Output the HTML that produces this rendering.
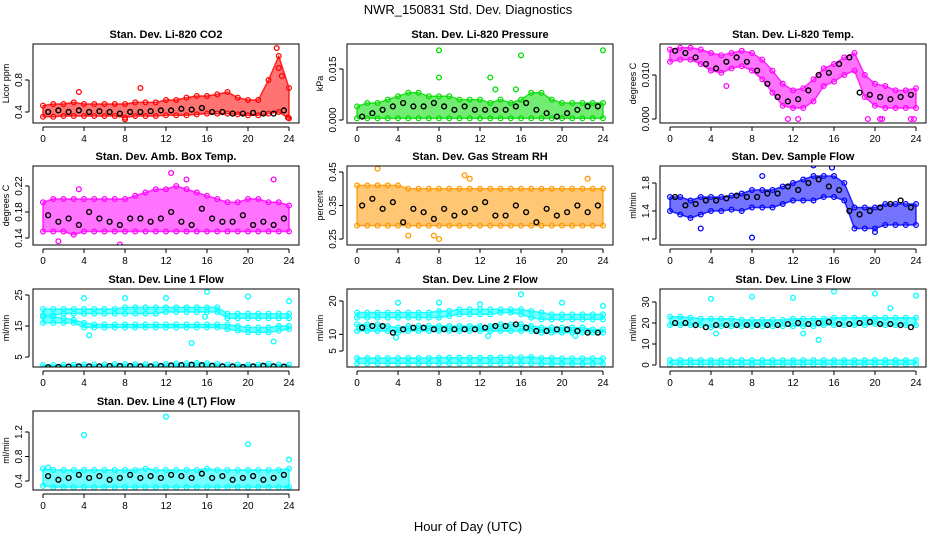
<!DOCTYPE html>
<html><head><meta charset="utf-8">
<style>
html,body{margin:0;padding:0;background:#fff;}
svg{display:block;font-family:"Liberation Sans",Arial,sans-serif;}
</style></head>
<body>
<svg id="chart" width="936" height="540" viewBox="0 0 936 540">
<text x="468" y="14" text-anchor="middle" font-size="13">NWR_150831  Std. Dev. Diagnostics</text>
<text x="468" y="531" text-anchor="middle" font-size="13">Hour of Day (UTC)</text>
</svg>
<script>
const hours=[0,1,2,3,4,5,6,7,8,9,10,11,12,13,14,15,16,17,18,19,20,21,22,23,24];
const xTicks=[0,4,8,12,16,20,24];
// CO2
const co2Lo=[0.34,0.34,0.35,0.35,0.35,0.35,0.35,0.35,0.33,0.35,0.35,0.35,0.36,0.36,0.36,0.37,0.38,0.38,0.38,0.37,0.36,0.36,0.38,0.40,0.32];
const co2Hi=[0.48,0.50,0.50,0.52,0.50,0.50,0.50,0.50,0.50,0.52,0.52,0.52,0.55,0.55,0.58,0.60,0.60,0.62,0.65,0.58,0.55,0.55,0.80,1.10,0.70];
const co2Blk=[0.40,0.40,0.42,0.40,0.42,0.40,0.41,0.40,0.38,0.40,0.40,0.41,0.42,0.42,0.44,0.43,0.45,0.40,0.40,0.38,0.38,0.39,0.38,0.38,0.42];
const co2OutX=[3.5,9.5,23,22.8,23.3,8,23.9];
const co2OutY=[0.65,0.70,0.95,1.20,0.85,0.31,0.33];
const co2Ticks=[0.4,0.8];
// Pressure
const prLo=[0.0005,0.0005,0.0005,0.0005,0.0005,0.0005,0.0005,0.0005,0.0005,0.0005,0.0005,0.0005,0.0005,0.0005,0.0005,0.0005,0.0005,0.0005,0.0005,0.0005,0.0005,0.0005,0.0005,0.0005,0.0005];
const prHi=[0.004,0.005,0.005,0.006,0.007,0.008,0.008,0.007,0.007,0.007,0.006,0.006,0.006,0.005,0.006,0.005,0.006,0.008,0.008,0.006,0.005,0.005,0.005,0.005,0.005];
const prBlk=[0.002,0.001,0.002,0.003,0.004,0.005,0.004,0.004,0.005,0.004,0.003,0.004,0.003,0.003,0.003,0.003,0.004,0.005,0.003,0.002,0.001,0.002,0.003,0.004,0.004];
const prOutX=[8,16,24,13,13.5,15.5,8];
const prOutY=[0.0205,0.019,0.0205,0.0125,0.009,0.009,0.0125];
const prTicks=[0.000,0.015];
const prTickLabels=["0.000","0.015"];
// Li-820 Temp
const tLo=[0.0130,0.0135,0.0135,0.0125,0.0110,0.0105,0.0115,0.0120,0.0110,0.0090,0.0060,0.0030,0.0025,0.0025,0.0040,0.0075,0.0085,0.0100,0.0110,0.0050,0.0030,0.0025,0.0025,0.0025,0.0025];
const tHi=[0.0158,0.0162,0.0162,0.0158,0.0150,0.0145,0.0150,0.0155,0.0150,0.0135,0.0110,0.0080,0.0065,0.0070,0.0090,0.0115,0.0125,0.0140,0.0150,0.0100,0.0080,0.0075,0.0065,0.0065,0.0070];
const tBlk=[0.0150,0.0155,0.0150,0.0140,0.0125,0.0115,0.0130,0.0140,0.0130,0.0110,0.0080,0.0050,0.0040,0.0045,0.0065,0.0100,0.0105,0.0125,0.0140,0.0060,0.0055,0.0050,0.0045,0.0050,0.0055];
const tOutX=[11.5,12.5,19.3,20.5,20.7,23.5,23.8,5.5];
const tOutY=[0,0,0,0,0,0,0,0.0075];
const tTicks=[0.000,0.010];
const tTickLabels=["0.000","0.010"];
// Amb box temp
const bLo=[0.15,0.15,0.15,0.145,0.15,0.15,0.15,0.15,0.15,0.15,0.15,0.15,0.15,0.15,0.15,0.15,0.15,0.15,0.15,0.15,0.15,0.15,0.15,0.15,0.15];
const bHi=[0.195,0.20,0.20,0.20,0.20,0.20,0.20,0.20,0.20,0.205,0.21,0.215,0.215,0.22,0.215,0.21,0.205,0.20,0.195,0.195,0.20,0.20,0.195,0.195,0.19];
const bBlk=[0.17,0.175,0.165,0.17,0.16,0.18,0.17,0.165,0.16,0.17,0.17,0.165,0.17,0.18,0.165,0.16,0.185,0.17,0.165,0.165,0.175,0.16,0.165,0.16,0.17];
const bOutX=[12.5,7.5,1.5,14,3.5,22.5];
const bOutY=[0.24,0.13,0.135,0.23,0.215,0.23];
const bTicks=[0.14,0.18,0.22];
// RH
const rLo=[0.29,0.29,0.29,0.29,0.29,0.29,0.29,0.29,0.29,0.29,0.29,0.29,0.29,0.29,0.29,0.29,0.29,0.29,0.29,0.29,0.29,0.29,0.29,0.29,0.29];
const rHi=[0.41,0.41,0.41,0.41,0.41,0.40,0.40,0.40,0.40,0.40,0.40,0.40,0.40,0.40,0.40,0.40,0.40,0.40,0.40,0.40,0.40,0.40,0.40,0.40,0.40];
const rBlk=[0.36,0.35,0.37,0.34,0.36,0.30,0.34,0.33,0.31,0.34,0.32,0.33,0.34,0.36,0.32,0.32,0.35,0.33,0.30,0.34,0.32,0.33,0.35,0.33,0.35];
const rOutX=[2,5,8,10.5,11,22.5,7.5];
const rOutY=[0.46,0.26,0.25,0.44,0.43,0.43,0.26];
const rTicks=[0.25,0.35,0.45];
// Sample flow
const sLo=[1.40,1.35,1.30,1.35,1.40,1.40,1.42,1.40,1.45,1.45,1.45,1.50,1.55,1.55,1.55,1.60,1.60,1.55,1.15,1.15,1.15,1.20,1.20,1.20,1.20];
const sHi=[1.60,1.60,1.55,1.60,1.60,1.60,1.62,1.65,1.70,1.70,1.70,1.75,1.80,1.85,1.90,1.90,1.90,1.80,1.45,1.45,1.45,1.50,1.50,1.50,1.50];
const sBlk=[1.55,1.60,1.48,1.50,1.55,1.55,1.58,1.62,1.60,1.60,1.65,1.65,1.75,1.70,1.80,1.85,1.75,1.70,1.40,1.35,1.40,1.45,1.50,1.55,1.45];
const sOutX=[8,14,20,15.8,3,9];
const sOutY=[1.02,2.05,1.10,2.02,1.15,1.90];
const sTicks=[1.0,1.4,1.8];
// Line 1
const l1ULo=[18.5,18.5,19,19,19,19,19,19,19,19,19,19,19.5,19.5,19.5,19.5,19.5,19.5,17.5,17.5,17.5,17.5,17.5,17.5,17.5];
const l1UHi=[20.5,20.5,20.5,20.5,20.5,20.5,20.5,20.5,21,21,21,21,21,21,21,21,21,21,19,19,19,19,19,19,19];
const l1LLo=[16,16,16,16,14.5,14.5,14.5,14.5,14.5,14.5,14.5,14.5,14.5,14.5,14.5,14.5,14.5,14.5,14,13.5,13,13,13,13.5,14];
const l1LHi=[18,18,17.5,17,16,15.5,15.5,15.5,15.5,15.5,15.5,15.5,15.5,15.5,15.5,15.5,15.5,15.5,15.5,15,14.5,14.5,14.5,15,15];
const l1BLo=[1.4,1.4,1.4,1.5,1.5,1.5,1.5,1.5,1.5,1.5,1.5,1.5,1.6,1.6,1.7,1.7,1.7,1.6,1.5,1.5,1.4,1.4,1.5,1.5,1.4];
const l1BHi=[2.4,2.4,2.5,2.5,2.6,2.6,2.6,2.7,2.7,2.7,2.7,2.7,2.8,2.9,3.0,3.1,3.0,2.8,2.6,2.6,2.5,2.6,2.8,2.6,2.5];
const l1Blk=[1.8,1.7,1.8,1.9,2,2,2,2.1,2.1,2.1,2,2,2.1,2.3,2.4,2.5,2.4,2.2,2,2,1.8,2,2.2,2,1.9];
const l1OutX=[4,8,12,16,20,24,14.5,22.5,4.5,15.8];
const l1OutY=[24,24,24,26,24.5,23,9.5,10,12,18];
const l1Ticks=[5,15,25];
// Line 2
const l2TLo=[15,15,15,15,15,15,15,15,15,15.5,16,16,16,16,16.5,16.5,16,15,14.5,14.5,14.5,14.5,14.5,14.5,14.5];
const l2THi=[16.5,16.5,16.5,16.5,16.5,16.5,16.5,16.5,17,17,17.5,17.5,17.5,17.5,17.5,17.5,17.5,17,16.5,16,16,16,16,16,16];
const l2MLo=[11,11,11,11,10.5,11,11,11,11,11,11,11,11,11,11,11,11,11,10.5,10.5,10.5,10.5,10.5,10.5,10.5];
const l2MHi=[13,13,13,12.5,12,12.5,12.5,12.5,12.5,12.5,12.5,12.5,12.5,12.5,13,13,13,12.5,12,12,12,12,12,11.5,11.5];
const l2BLo=[1.3,1.3,1.3,1.3,1.3,1.3,1.3,1.3,1.3,1.3,1.3,1.3,1.3,1.3,1.3,1.3,1.3,1.3,1.1,1.1,1.1,1.1,1.1,1.1,1.1];
const l2BHi=[2.9,2.9,2.9,2.9,2.9,2.9,2.9,2.9,3.0,3.0,3.0,3.0,3.0,3.0,3.1,3.1,3.1,3.2,2.9,2.9,2.8,2.8,2.8,2.8,2.8];
const l2Blk=[12,12,12.5,12.5,10.5,11.5,12,12,11.5,11.5,11.5,11.5,11.5,12,12.5,12.5,13,12,11,11,11.5,11.5,11,10.5,10.5];
const l2OutX=[4,8,12,16,20,24,3.8,12.8,21.3];
const l2OutY=[19.5,19.5,19,22,19.5,18.5,9,9.5,9.5];
const l2Ticks=[5,10,20];
// Line 3
const l3Lo=[19,19,19,19,18,18.5,18.5,18.5,18.5,18.5,18.5,18.5,18.5,18.5,18.5,19,19,19,19,19,19.5,19,19,19,19];
const l3Hi=[23,23,22.5,22,22,22,22,21.5,21.5,21.5,21.5,21.5,22,22,22,22,22.5,22.5,22.5,22.5,22.5,22.5,22.5,22.5,22.5];
const l3BLo=[0.3,0.3,0.3,0.3,0.3,0.3,0.3,0.3,0.3,0.3,0.3,0.3,0.3,0.3,0.3,0.3,0.3,0.3,0.3,0.3,0.3,0.3,0.3,0.3,0.3];
const l3BHi=[2.3,2.3,2.3,2.3,2.3,2.3,2.3,2.3,2.3,2.3,2.3,2.3,2.3,2.3,2.3,2.3,2.3,2.3,2.3,2.3,2.3,2.3,2.3,2.3,2.3];
const l3Blk=[20,20,20,19,18,19,19,19,19,19,19,19,19.5,20,19.5,20,20.5,19.5,19.5,20,20.5,19.5,19.5,19,18];
const l3OutX=[4,8,12,16,20,24,14.5,13,4.5,21.5];
const l3OutY=[31.5,32.5,32,35,34,33,12,15,15,27];
const l3Ticks=[0,10,20,30];
// Line 4
const l4Lo=[0.32,0.30,0.30,0.30,0.30,0.30,0.30,0.30,0.30,0.30,0.30,0.30,0.30,0.30,0.30,0.30,0.30,0.30,0.30,0.30,0.30,0.30,0.30,0.30,0.30];
const l4Hi=[0.60,0.58,0.58,0.58,0.58,0.58,0.58,0.58,0.58,0.58,0.60,0.58,0.58,0.58,0.58,0.58,0.60,0.58,0.58,0.58,0.58,0.58,0.58,0.58,0.60];
const l4Blk=[0.45,0.48,0.42,0.45,0.50,0.45,0.48,0.42,0.45,0.5,0.45,0.48,0.45,0.5,0.48,0.45,0.52,0.45,0.48,0.42,0.45,0.48,0.42,0.45,0.5];
const l4OutX=[4,12,20,24,0.5,23.8];
const l4OutY=[1.15,1.45,1.0,0.75,0.62,0.28];
const l4Ticks=[0.4,0.8,1.2];

const NS="http://www.w3.org/2000/svg";
const svg=document.getElementById('chart');
function mk(tag,attrs,parent){const e=document.createElementNS(NS,tag);for(const k in attrs)e.setAttribute(k,attrs[k]);(parent||svg).appendChild(e);return e;}

const colX=[{l:33,r:299},{l:347,r:613},{l:660,r:926}];
const rowY=[{t:44,b:123},{t:166,b:245},{t:289,b:367},{t:411,b:490}];

function panel(name,title,ylab,col,row,ref,ticks,tickLabels,color,bands,blk,outX,outY){
  const g=mk('g',{});
  
  
  const L=colX[col].l,R=colX[col].r,T=rowY[row].t,B=rowY[row].b;
  const xs=h=>L+10+h*(R-L-20)/24;
  const ys=v=>ref[1]+(v-ref[0])*(ref[3]-ref[1])/(ref[2]-ref[0]);
  const cid='clip-'+name;
  const cp=mk('clipPath',{id:cid},g);mk('rect',{x:L,y:T,width:R-L,height:B-T},cp);
  const data=mk('g',{'clip-path':'url(#'+cid+')'},g);
  
  
  bands.forEach(([lo,hi])=>{
    let pts=hours.map((h,i)=>xs(h)+','+ys(hi[i]));
    pts=pts.concat(hours.slice().reverse().map((h,j)=>{const i=hours.length-1-j;return xs(h)+','+ys(lo[i]);}));
    const band=mk('polygon',{points:pts.join(' '),fill:color,'fill-opacity':0.55,stroke:color,'stroke-width':1.5,'stroke-opacity':0.8,'stroke-linejoin':'round'},data);
    
    
    hours.forEach((h,i)=>{
      [lo[i],hi[i]].forEach(v=>{
        const c=mk('circle',{cx:xs(h),cy:ys(v),r:2.4,fill:'none',stroke:color,'stroke-width':1.2},data);
        
        
      });
    });
  });
  outX.forEach((x,i)=>{
    const c=mk('circle',{cx:xs(x),cy:ys(outY[i]),r:2.4,fill:'none',stroke:color,'stroke-width':1.3},data);
    
    
  });
  hours.forEach((h,i)=>{
    if(h===0)return;
    const c=mk('circle',{cx:xs(h-0.5),cy:ys(blk[i]),r:2.4,fill:'none',stroke:'#000','stroke-width':1.4},data);
    
    
  });
  const box=mk('rect',{x:L,y:T,width:R-L,height:B-T,fill:'none',stroke:'#000','stroke-width':1},g);
  
  
  const t=mk('text',{x:(L+R)/2,y:T-6,'text-anchor':'middle','font-size':11,'font-weight':'bold'},g);
  t.textContent=title;
  
  
  const xa=mk('g',{},g);
  
  
  mk('line',{x1:xs(0),x2:xs(24),y1:B+4,y2:B+4,stroke:'#000'},xa);
  xTicks.forEach(v=>{
    mk('line',{x1:xs(v),x2:xs(v),y1:B+4,y2:B+8,stroke:'#000'},xa);
    const tx=mk('text',{x:xs(v),y:B+19,'text-anchor':'middle','font-size':10},xa);
    tx.textContent=v;
  });
  const ya=mk('g',{},g);
  
  
  mk('line',{x1:L-4,x2:L-4,y1:ys(ticks[0]),y2:ys(ticks[ticks.length-1]),stroke:'#000'},ya);
  ticks.forEach((v,i)=>{
    mk('line',{x1:L-8,x2:L-4,y1:ys(v),y2:ys(v),stroke:'#000'},ya);
    const yy=ys(v);
    const tx=mk('text',{x:L-11,y:yy,'text-anchor':'middle','font-size':10,transform:'rotate(-90 '+(L-11)+' '+yy+')'},ya);
    tx.textContent=tickLabels?tickLabels[i]:v;
  });
  const cy=(T+B)/2;
  const yl=mk('text',{x:L-24,y:cy,'text-anchor':'middle','font-size':9,transform:'rotate(-90 '+(L-24)+' '+cy+')'},g);
  yl.textContent=ylab;
  
  
}
panel('co2','Stan. Dev. Li-820 CO2','Licor ppm',0,0,[0.4,112,0.8,80],co2Ticks,null,'#f00',[[co2Lo,co2Hi]],co2Blk,co2OutX,co2OutY);
panel('pressure','Stan. Dev. Li-820 Pressure','kPa',1,0,[0,120,0.015,69],prTicks,prTickLabels,'#0d0',[[prLo,prHi]],prBlk,prOutX,prOutY);
panel('li820-temp','Stan. Dev. Li-820 Temp.','degrees C',2,0,[0,119,0.010,75],tTicks,tTickLabels,'#f0f',[[tLo,tHi]],tBlk,tOutX,tOutY);
panel('box-temp','Stan. Dev. Amb. Box Temp.','degrees C',0,1,[0.14,238,0.22,186],bTicks,null,'#f0f',[[bLo,bHi]],bBlk,bOutX,bOutY);
panel('gas-rh','Stan. Dev. Gas Stream RH','percent',1,1,[0.25,239,0.45,172],rTicks,null,'#f90',[[rLo,rHi]],rBlk,rOutX,rOutY);
panel('sample-flow','Stan. Dev. Sample Flow','ml/min',2,1,[1.0,239,1.8,183],sTicks,null,'#00f',[[sLo,sHi]],sBlk,sOutX,sOutY);
panel('line1-flow','Stan. Dev. Line 1 Flow','ml/min',0,2,[5,357,25,295],l1Ticks,null,'#0ff',[[l1ULo,l1UHi],[l1LLo,l1LHi],[l1BLo,l1BHi]],l1Blk,l1OutX,l1OutY);
panel('line2-flow','Stan. Dev. Line 2 Flow','ml/min',1,2,[5,351,20,301],l2Ticks,null,'#0ff',[[l2TLo,l2THi],[l2MLo,l2MHi],[l2BLo,l2BHi]],l2Blk,l2OutX,l2OutY);
panel('line3-flow','Stan. Dev. Line 3 Flow','ml/min',2,2,[0,365,30,302],l3Ticks,null,'#0ff',[[l3Lo,l3Hi],[l3BLo,l3BHi]],l3Blk,l3OutX,l3OutY);
panel('line4-flow','Stan. Dev. Line 4 (LT) Flow','ml/min',0,3,[0.4,481,1.2,432],l4Ticks,null,'#0ff',[[l4Lo,l4Hi]],l4Blk,l4OutX,l4OutY);
</script>
</body></html>
